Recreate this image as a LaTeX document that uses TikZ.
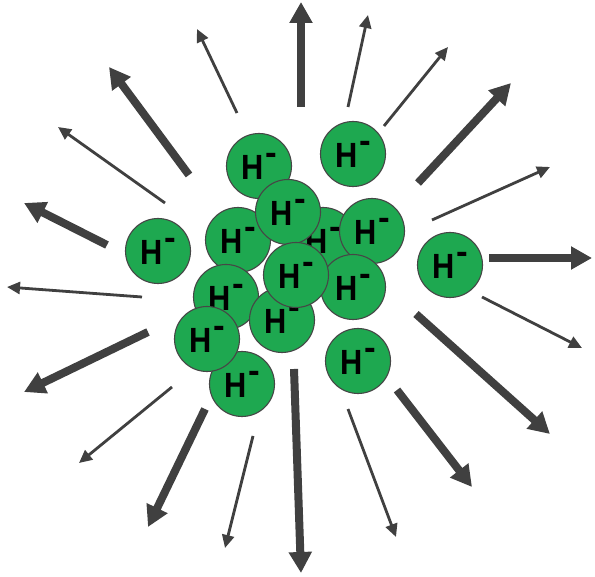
\documentclass[tikz,border=0pt]{standalone}
\usepackage{fontspec}
\setmainfont{Liberation Sans}
\usetikzlibrary{arrows.meta}
\definecolor{atomgreen}{RGB}{30,168,80}
\definecolor{arrowgray}{RGB}{64,64,64}
\definecolor{rimgray}{RGB}{70,70,70}
\tikzset{
  atom/.style={circle, draw=rimgray, line width=1.1pt, fill=atomgreen,
    minimum size=65pt, inner sep=0pt, font=\fontsize{35}{35}\selectfont\bfseries},
  thickarrow/.style={draw=arrowgray, line width=8pt,
    -{Triangle[length=21pt,width=22pt]}, fill=arrowgray},
  thinarrow/.style={draw=arrowgray, line width=2.8pt,
    -{Triangle[length=13pt,width=12pt]}, fill=arrowgray}
}
\newcommand{\hion}{\scalebox{0.88}[1]{H}\hspace{2pt}\raisebox{15pt}{-}}
\begin{document}
\begin{tikzpicture}[x=1pt,y=-1pt]
\useasboundingbox (0,0) rectangle (595,577);
% arrows
\foreach \n/\tx/\ty/\hx/\hy/\s in {
  1/301/107/301/2/thickarrow,
  2/348/107/368/15/thinarrow,
  3/384/126/448/47/thinarrow,
  4/418/183/511/83/thickarrow,
  5/432/220/550/167/thinarrow,
  6/489/258/592/258/thickarrow,
  7/482/297/582/348/thinarrow,
  8/416/314/550/434/thickarrow,
  9/397/390/472/487/thickarrow,
  10/348/409/396/537/thinarrow,
  11/294/369/301/573/thickarrow,
  12/253/436/225/548/thinarrow,
  13/205/409/148/527/thickarrow,
  14/172/387/79/463/thinarrow,
  15/148/332/24/392/thickarrow,
  16/142/297/7/287/thinarrow,
  17/107/245/24/203/thickarrow,
  18/165/203/58/127/thinarrow,
  19/189/175/109/67/thickarrow,
  20/237/113/197/29/thinarrow}{
  \coordinate (t\n) at (\tx,\ty);
  \coordinate (h\n) at (\hx,\hy);
  \draw[\s] (t\n) -- (h\n);
}
% ions (drawing order gives the overlaps)
\node[atom] (F) at (323,240) {\hion};
\node[atom] (A) at (259,166) {\hion};
\node[atom] (B) at (353,154) {\hion};
\node[atom] (E) at (158,251) {\hion};
\node[atom] (D) at (238,240) {\hion};
\node[atom] (J) at (226,297) {\hion};
\node[atom] (M) at (242,384) {\hion};
\node[atom] (L) at (207,339) {\hion};
\node[atom] (C) at (288,212) {\hion};
\node[atom] (G) at (372,231) {\hion};
\node[atom] (K) at (282,320) {\hion};
\node[atom] (I) at (353,287) {\hion};
\node[atom] (H) at (296,275) {\hion};
\node[atom] (N) at (358,361) {\hion};
\node[atom] (O) at (450,265) {\hion};
\end{tikzpicture}
\end{document}
